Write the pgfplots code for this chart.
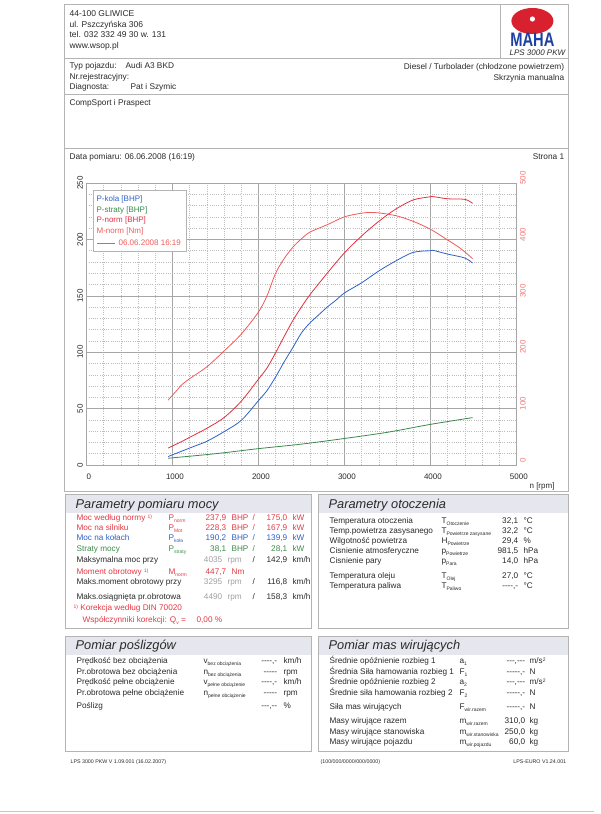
\documentclass[border=0pt]{standalone}
\usepackage{pgfplots}
\pgfplotsset{compat=1.18}
\usepackage{fontspec}
\setmainfont{Liberation Sans}
\definecolor{frame}{HTML}{B4B4B4}
\definecolor{barfill}{HTML}{E6E6EE}
\definecolor{txt}{HTML}{2A2A2A}
\definecolor{redt}{HTML}{E53A44}
\definecolor{bluet}{HTML}{2E62C6}
\definecolor{greent}{HTML}{3C8C48}
\definecolor{greyt}{HTML}{A0A0A0}
\definecolor{pkola}{HTML}{2F62C8}
\definecolor{pstraty}{HTML}{3A8A4C}
\definecolor{pnorm}{HTML}{E2303F}
\definecolor{mnorm}{HTML}{EF5B5B}
\definecolor{nmtick}{HTML}{F27A7A}
\definecolor{gridmaj}{HTML}{A6A6A6}
\definecolor{gridmin}{HTML}{BDBDBD}
\definecolor{logored}{HTML}{D9202E}
\definecolor{logoblue}{HTML}{1E40A0}
\newcommand\fs[1]{\fontsize{#1}{#1}\selectfont}
\newcommand\sub[1]{\raisebox{-1.6pt}{\fontsize{5}{5}\selectfont #1}}
\newcommand\supr[1]{\raisebox{2.5pt}{\fontsize{5}{5}\selectfont #1}}
\tikzset{
 L/.style={anchor=base west, inner sep=0pt, font=\fs{8.2}, text=txt},
 R/.style={anchor=base east, inner sep=0pt, font=\fs{8.2}, text=txt},
 T/.style={anchor=base west, inner sep=0pt, font=\fs{12.8}\itshape, text=txt},
 F/.style={anchor=base west, inner sep=0pt, font=\fs{5.3}, text=txt},
 fr/.style={draw=frame, line width=0.6pt},
}
% section 1 rows
\newcommand\secrow[8]{%
 \node[L,text=#1] at (76,#2) {#3};
 \node[L,text=#1] at (168,#2) {#4};
 \node[R,text=#1] at (226,#2) {#5};
 \node[L,text=#1] at (231,#2) {#6};
 \node[L,text=#1] at (252,#2) {/};
 \node[R,text=#1] at (287,#2) {#7};
 \node[L,text=#1] at (292,#2) {#8};}
\newcommand\rpmrow[4]{%
 \node[L] at (76,#1) {#2};
 \node[R,text=greyt] at (222,#1) {#3};
 \node[L,text=greyt] at (227,#1) {rpm};
 \node[L] at (252,#1) {/};
 \node[R] at (287,#1) {#4};
 \node[L] at (292,#1) {km/h};}
\newcommand\envrow[5]{%
 \node[L] at (329,#1) {#2};
 \node[L] at (441,#1) {#3};
 \node[R] at (518,#1) {#4};
 \node[L] at (523,#1) {#5};}
\newcommand\sliprow[5]{%
 \node[L] at (76,#1) {#2};
 \node[L] at (203,#1) {#3};
 \node[R] at (277,#1) {#4};
 \node[L] at (283,#1) {#5};}
\newcommand\masrow[5]{%
 \node[L] at (329,#1) {#2};
 \node[L] at (459,#1) {#3};
 \node[R] at (525,#1) {#4};
 \node[L] at (529,#1) {#5};}
\begin{document}
\begin{tikzpicture}
\path[fill=white] (0,0) rectangle (600pt,814pt);
\begin{scope}[x=1pt,y=-1pt,yshift=814pt]
% frame
\draw[fr] (63.5,4) rectangle (568,491);
\draw[fr] (63.5,58) -- (568,58);
\draw[fr] (63.5,94) -- (568,94);
\draw[fr] (63.5,148) -- (568,148);
\draw[fr] (500,4) -- (500,58);
% header box 1
\node[L,font=\fs{8.5}] at (69,17) {44-100 GLIWICE};
\node[L,font=\fs{8.5}] at (69,27.5) {ul. Pszczyńska 306};
\node[L,font=\fs{8.5}] at (69,38) {tel. 032 332 49 30 w. 131};
\node[L,font=\fs{8.5}] at (69,48.5) {www.wsop.pl};
\fill[logored] (532,21) ellipse [x radius=21, y radius=13];
\fill[white] (532,19) circle [radius=2.6];
\node[inner sep=0pt, text=logoblue, font=\fs{15}\bfseries] at (532,39.5) {\scalebox{0.98}[1.3]{MAHA}};
\node[R,font=\fs{8}\itshape] at (565,55.5) {LPS 3000 PKW};
% box 2
\node[L,font=\fs{8.3}] at (69,69) {Typ pojazdu:};
\node[L,font=\fs{8.3}] at (125,69) {Audi A3 BKD};
\node[L,font=\fs{8.3}] at (69,79.5) {Nr.rejestracyjny:};
\node[L,font=\fs{8.3}] at (69,90) {Diagnosta:};
\node[L,font=\fs{8.3}] at (130,90) {Pat i Szymic};
\node[R,font=\fs{8.3}] at (564,70) {Diesel / Turbolader (chłodzone powietrzem)};
\node[R,font=\fs{8.3}] at (564,80.5) {Skrzynia manualna};
% box 3
\node[L,font=\fs{8.3}] at (69,106) {CompSport i Praspect};
% box 4
\node[L,font=\fs{8.3}] at (69,160) {Data pomiaru: 06.06.2008 (16:19)};
\node[R,font=\fs{8.3}] at (564,160) {Strona 1};
\node[anchor=base west, inner sep=0pt, font=\fs{8}, text=txt] at (529,489) {n [rpm]};
% section 1
\fill[barfill] (65,494.5) rectangle (310.5,513);
\draw[fr] (64.5,494) rectangle (311,628);
\node[T] at (75,509) {Parametry pomiaru mocy};
\secrow{redt}{521}{Moc według normy \supr{1)}}{P\sub{norm}}{237,9}{BHP}{175,0}{kW}
\secrow{redt}{531}{Moc na silniku}{P\sub{Mot}}{228,3}{BHP}{167,9}{kW}
\secrow{bluet}{541}{Moc na kołach}{P\sub{koła}}{190,2}{BHP}{139,9}{kW}
\secrow{greent}{552}{Straty mocy}{P\sub{straty}}{38,1}{BHP}{28,1}{kW}
\rpmrow{563}{Maksymalna moc przy}{4035}{142,9}
\node[L,text=redt] at (76,575) {Moment obrotowy \supr{1)}};
\node[L,text=redt] at (168,575) {M\sub{norm}};
\node[R,text=redt] at (226,575) {447,7};
\node[L,text=redt] at (231,575) {Nm};
\rpmrow{585}{Maks.moment obrotowy przy}{3295}{116,8}
\rpmrow{600}{Maks.osiągnięta pr.obrotowa}{4490}{158,3}
\node[L,text=redt] at (73,611) {\supr{1)} Korekcja według DIN 70020};
\node[L,text=redt] at (82,623) {Współczynniki korekcji: Q\sub{v} =};
\node[L,text=redt] at (196,623) {0,00 \%};
% section 2
\fill[barfill] (318,494.5) rectangle (567.5,513);
\draw[fr] (317.5,494) rectangle (568,628);
\node[T] at (328,509) {Parametry otoczenia};
\envrow{524}{Temperatura otoczenia}{T\sub{Otoczenie}}{32,1}{°C}
\envrow{534}{Temp.powietrza zasysanego}{T\sub{Powietrze zasysane}}{32,2}{°C}
\envrow{544}{Wilgotność powietrza}{H\sub{Powietrze}}{29,4}{\%}
\envrow{554}{Cisnienie atmosferyczne}{p\sub{Powietrze}}{981,5}{hPa}
\envrow{564}{Cisnienie pary}{p\sub{Para}}{14,0}{hPa}
\envrow{579}{Temperatura oleju}{T\sub{Olej}}{27,0}{°C}
\envrow{589}{Temperatura paliwa}{T\sub{Paliwo}}{-{}-{}-{}-,-}{°C}
% section 3
\fill[barfill] (65,636.5) rectangle (310.5,655);
\draw[fr] (64.5,636) rectangle (311,751);
\node[T] at (75,650) {Pomiar poślizgów};
\sliprow{664}{Prędkość bez obciążenia}{v\sub{bez obciążenia}}{-{}-{}-{}-,-}{km/h}
\sliprow{674.5}{Pr.obrotowa bez obciążenia}{n\sub{bez obciążenia}}{-{}-{}-{}-{}-}{rpm}
\sliprow{685}{Prędkość pełne obciążenie}{v\sub{pełne obciążenie}}{-{}-{}-{}-,-}{km/h}
\sliprow{695.5}{Pr.obrotowa pełne obciążenie}{n\sub{pełne obciążenie}}{-{}-{}-{}-{}-}{rpm}
\sliprow{709}{Poślizg}{}{-{}-{}-,-{}-}{\%}
% section 4
\fill[barfill] (318,636.5) rectangle (567.5,655);
\draw[fr] (317.5,636) rectangle (568,751);
\node[T] at (328,650) {Pomiar mas wirujących};
\masrow{664}{Średnie opóźnienie rozbieg 1}{a\sub{1}}{-{}-{}-,-{}-{}-}{m/s\supr{2}}
\masrow{674.5}{Średnia Siła hamowania rozbieg 1}{F\sub{1}}{-{}-{}-{}-{}-,-}{N}
\masrow{685}{Średnie opóźnienie rozbieg 2}{a\sub{2}}{-{}-{}-,-{}-{}-}{m/s\supr{2}}
\masrow{695.5}{Średnie siła hamowania rozbieg 2}{F\sub{2}}{-{}-{}-{}-{}-,-}{N}
\masrow{710}{Siła mas wirujących}{F\sub{wir.razem}}{-{}-{}-{}-{}-,-}{N}
\masrow{724}{Masy wirujące razem}{m\sub{wir.razem}}{310,0}{kg}
\masrow{734.5}{Masy wirujące stanowiska}{m\sub{wir.stanowiska}}{250,0}{kg}
\masrow{745}{Masy wirujące pojazdu}{m\sub{wir.pojazdu}}{60,0}{kg}
% footer
\node[F] at (70,764) {LPS 3000 PKW V 1.09.001 (16.02.2007)};
\node[F] at (320,764) {(100/000/0000/000/0000)};
\node[F,anchor=base east] at (566,764) {LPS-EURO V1.24.001};
\draw[draw=gray!45, line width=0.8pt] (0,811) -- (594,811);
\end{scope}

\begin{axis}[
 at={(86pt,349pt)}, anchor=south west, scale only axis,
 width=430pt, height=282pt,
 xmin=0, xmax=5000, ymin=0, ymax=250,
 xtick={0,1000,2000,3000,4000,5000},
 ytick={0,50,100,150,200,250},
 minor x tick num=4, minor y tick num=4,
 grid=both,
 major grid style={draw=gridmaj, line width=0.5pt},
 minor grid style={draw=gridmin, line width=0.5pt, dash pattern=on 1pt off 1.2pt},
 axis line style={draw=gridmaj, line width=0.6pt},
 major tick length=0pt, minor tick length=0pt,
 tick label style={font=\fs{8}, text=txt},
 /pgf/number format/assume math mode=true,
 /pgf/number format/1000 sep={},
 xticklabel style={yshift=-5pt, xshift=2.5pt},
 yticklabel style={rotate=90, anchor=south},
]
\addplot[pstraty, line width=0.8pt, smooth] table {
950 6
1500 10
2000 14.5
2500 18.5
3000 23.5
3500 29
4000 36
4490 42
};
\addplot[pkola, line width=0.8pt, smooth] table {
950 7.5
1100 12
1250 16.5
1400 21
1600 29.5
1800 39.5
2000 57
2100 66
2200 78
2300 91.5
2400 104
2500 117
2600 126
2700 133
2800 140
2900 146
3000 152.5
3200 161.5
3400 172
3600 181
3800 188.5
4000 190
4035 190.2
4200 187
4400 183.5
4490 179
};
\addplot[pnorm, line width=0.8pt, smooth] table {
950 15
1100 20.5
1200 24.5
1400 32.5
1600 42
1800 56.5
2000 76
2100 86
2200 99.5
2300 114
2400 128
2500 140
2600 151
2800 170
3000 188
3200 203
3400 216
3600 227
3800 235
4000 237.8
4035 237.9
4200 236
4400 235.5
4490 232
};
\end{axis}
\begin{axis}[
 at={(86pt,349pt)}, anchor=south west, scale only axis,
 width=430pt, height=282pt,
 xmin=0, xmax=5000, ymin=0, ymax=500,
 axis x line=none, axis y line*=right,
 axis line style={draw=gridmaj, line width=0.6pt},
 ytick={0,100,200,300,400,500}, major tick length=0pt,
 tick label style={font=\fs{8}, text=nmtick},
 /pgf/number format/assume math mode=true,
 yticklabel style={rotate=90, anchor=north, xshift=5pt},
]
\addplot[mnorm, line width=0.8pt, smooth] table {
950 115
1050 132
1100 141
1200 153
1400 174
1600 202
1800 232
2000 271
2100 300
2200 340
2300 366
2400 386
2500 401
2600 413
2800 426
3000 440
3200 446.5
3295 447.7
3400 447
3600 442
3800 432
4000 418
4200 399
4350 384
4490 366
};
\end{axis}

\begin{scope}[x=1pt,y=-1pt,yshift=814pt]
\draw[fill=white, draw=frame, line width=0.6pt] (93,190) rectangle (186,251);
\node[anchor=base west, inner sep=0pt, font=\fs{8}, text=pkola] at (96,202) {P-kola [BHP]};
\node[anchor=base west, inner sep=0pt, font=\fs{8}, text=pstraty] at (96,212.5) {P-straty [BHP]};
\node[anchor=base west, inner sep=0pt, font=\fs{8}, text=pnorm] at (96,223) {P-norm [BHP]};
\node[anchor=base west, inner sep=0pt, font=\fs{8}, text=mnorm] at (96,233.5) {M-norm [Nm]};
\draw[mnorm, line width=0.6pt] (97,243) -- (115,243);
\node[anchor=base west, inner sep=0pt, font=\fs{8}, text=mnorm] at (118,246) {06.06.2008 16:19};
\end{scope}
\end{tikzpicture}
\end{document}
